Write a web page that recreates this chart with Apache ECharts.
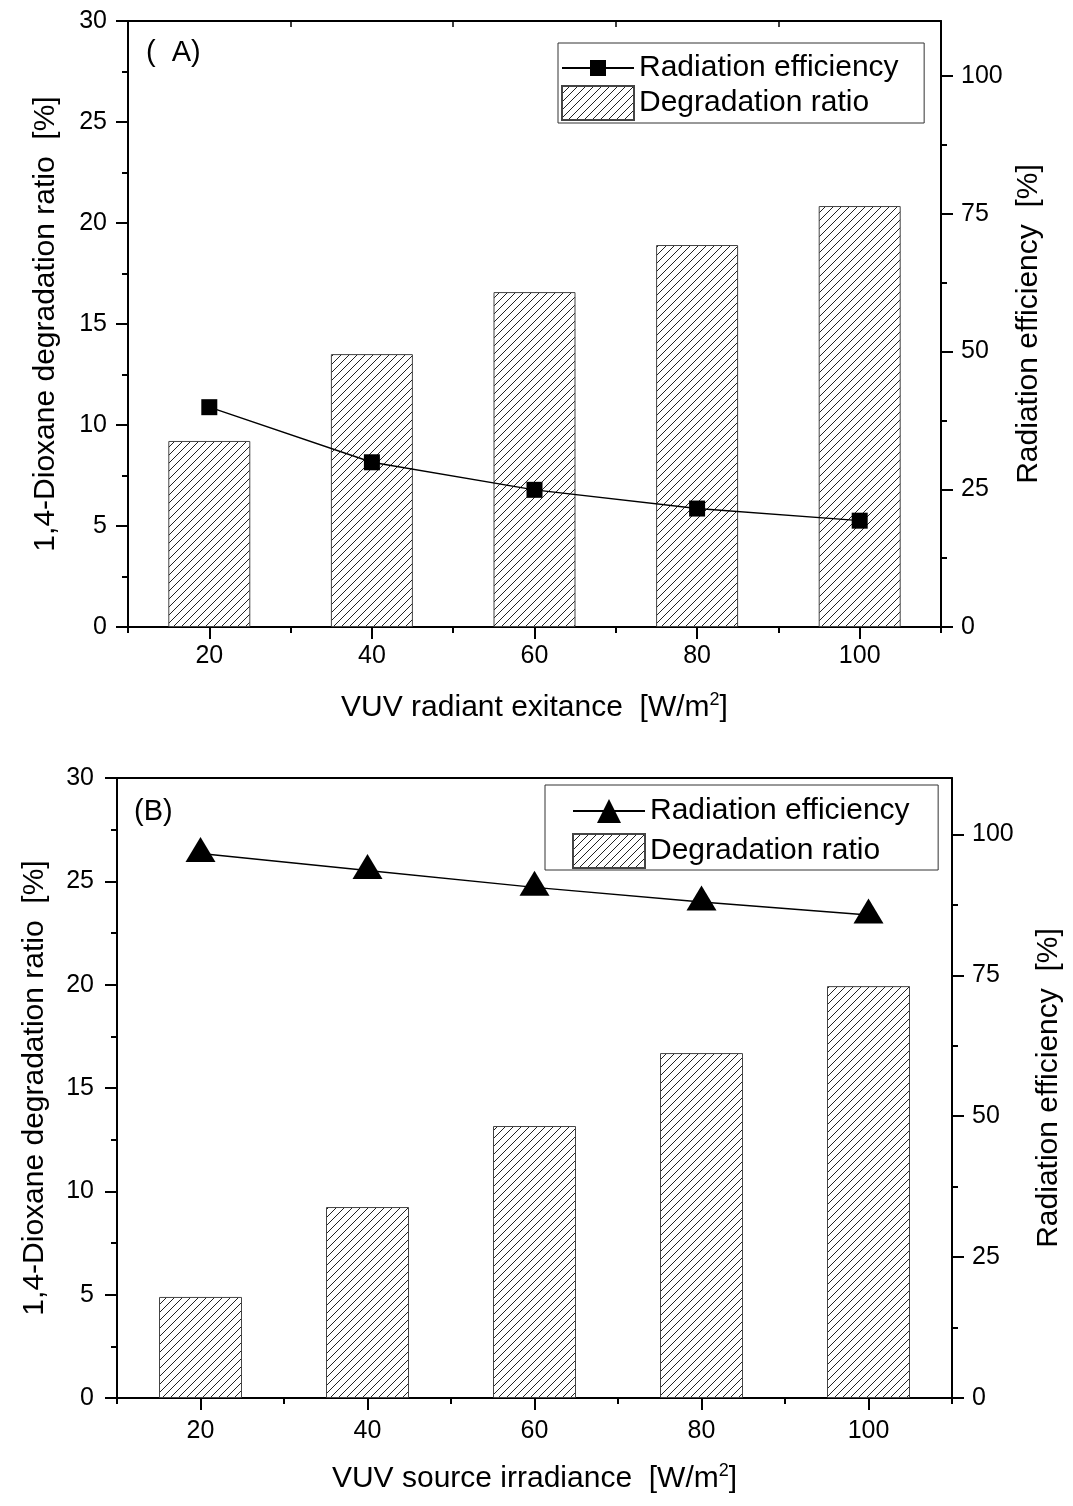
<!DOCTYPE html>
<html><head><meta charset="utf-8">
<script src="https://cdn.jsdelivr.net/npm/echarts@6/dist/echarts.min.js"></script>
<style>html,body{margin:0;padding:0;background:#fff}#c{width:1073px;height:1506px}</style>
</head><body><div id="c"></div>
<script>
// ---------------- data ----------------
const categories = [20, 40, 60, 80, 100];
const degradationA = [9.21, 13.51, 16.58, 18.91, 20.84];
const efficiencyA = [39.9, 29.9, 24.9, 21.5, 19.3];
const degradationB = [4.89, 9.24, 13.16, 16.69, 19.93];
const efficiencyB = [96.6, 93.6, 90.6, 88.0, 85.7];
const xMajorTicks = [20, 40, 60, 80, 100];
const xMinorTicks = [10, 30, 50, 70, 90, 110];
const rightTicks = [0, 25, 50, 75, 100];
const rightMinorTicks = [12.5, 37.5, 62.5, 87.5];
const leftName = '1,4-Dioxane degradation ratio  [%]';
const rightName = 'Radiation efficiency  [%]';
const xNameA = 'VUV radiant exitance  [W/m{sup|2}]';
const xNameB = 'VUV source irradiance  [W/m{sup|2}]';
const lineNameA = 'Radiation efficiency (A)';
const barNameA = 'Degradation ratio (A)';
const lineNameB = 'Radiation efficiency (B)';
const barNameB = 'Degradation ratio (B)';

// ---------------- styles ----------------
const FONT = 'Liberation Sans, Arial, Helvetica, sans-serif';
function hatch() {
  const c = document.createElement('canvas');
  c.width = 8; c.height = 8;
  const g = c.getContext('2d');
  g.strokeStyle = '#222'; g.lineWidth = 1;
  g.beginPath();
  g.moveTo(-1, 9); g.lineTo(9, -1);
  g.moveTo(-1, 1); g.lineTo(1, -1);
  g.moveTo(7, 9); g.lineTo(9, 7);
  g.stroke();
  return c;
}
const hatchFill = { image: hatch(), repeat: 'repeat' };
const axisLineStyle = { color: '#000', width: 2 };
const labelStyle = { fontSize: 25, color: '#000', fontFamily: FONT };
const nameStyle = { fontSize: 30, color: '#000', fontFamily: FONT,
  rich: { sup: { fontSize: 18, verticalAlign: 'bottom', padding: [0, 0, 15, 0], color: '#000', fontFamily: FONT } } };

const grids = [], xAxes = [], yAxes = [], series = [], legends = [];

function panel(i, cfg) {
  grids.push({ left: cfg.left, width: cfg.width, top: cfg.top, height: cfg.height, outerBoundsMode: 'none', containLabel: false });
  // x axes: main, minor, top
  xAxes.push({ type: 'value', gridIndex: i, min: 10, max: 110, position: 'bottom',
    axisLine: { show: true, onZero: false, lineStyle: axisLineStyle },
    axisTick: { show: true, customValues: xMajorTicks, length: 12, lineStyle: axisLineStyle },
    axisLabel: Object.assign({ customValues: xMajorTicks, margin: cfg.xLabelMargin }, labelStyle),
    splitLine: { show: false },
    name: cfg.xName, nameLocation: 'middle', nameGap: cfg.xNameGap, nameTextStyle: nameStyle });
  xAxes.push({ type: 'value', gridIndex: i, min: 10, max: 110, position: 'bottom',
    axisLine: { show: false, onZero: false },
    axisTick: { show: true, customValues: xMinorTicks, length: 6, lineStyle: axisLineStyle },
    axisLabel: { show: false }, splitLine: { show: false } });
  xAxes.push({ type: 'value', gridIndex: i, min: 10, max: 110, position: 'top',
    axisLine: { show: true, onZero: false, lineStyle: axisLineStyle },
    axisTick: { show: cfg.topTicks, inside: true, customValues: [30, 50, 70, 90], length: 6, lineStyle: { color: '#000', width: 1.5 } },
    axisLabel: { show: false }, splitLine: { show: false } });
  // y axes: left, right, right minor
  yAxes.push({ type: 'value', gridIndex: i, min: 0, max: 30, interval: 5, position: 'left',
    axisLine: { show: true, onZero: false, lineStyle: axisLineStyle },
    axisTick: { show: true, length: 12, lineStyle: axisLineStyle },
    minorTick: { show: true, splitNumber: 2, length: 6, lineStyle: axisLineStyle },
    axisLabel: Object.assign({ margin: cfg.yLabelMargin }, labelStyle),
    splitLine: { show: false }, minorSplitLine: { show: false },
    name: leftName, nameLocation: 'middle', nameGap: cfg.leftNameGap, nameRotate: 90, nameTextStyle: nameStyle });
  yAxes.push({ type: 'value', gridIndex: i, min: 0, max: 110, position: 'right',
    axisLine: { show: true, onZero: false, lineStyle: axisLineStyle },
    axisTick: { show: true, customValues: rightTicks, length: 12, lineStyle: axisLineStyle },
    axisLabel: Object.assign({ customValues: rightTicks, margin: 20 }, labelStyle),
    splitLine: { show: false },
    name: rightName, nameLocation: 'middle', nameGap: cfg.rightNameGap, nameRotate: 90, nameTextStyle: nameStyle });
  yAxes.push({ type: 'value', gridIndex: i, min: 0, max: 110, position: 'right',
    axisLine: { show: false, onZero: false },
    axisTick: { show: true, customValues: rightMinorTicks, length: 6, lineStyle: axisLineStyle },
    axisLabel: { show: false }, splitLine: { show: false } });

  series.push({ type: 'bar', name: cfg.barName, xAxisIndex: 3 * i, yAxisIndex: 3 * i,
    data: categories.map((c, k) => [c, cfg.bars[k]]), barWidth: cfg.barWidth,
    itemStyle: { color: hatchFill, borderColor: '#444', borderWidth: 1 }, z: 2, silent: true });
  series.push({ type: 'line', name: cfg.lineName, xAxisIndex: 3 * i, yAxisIndex: 3 * i + 1,
    data: categories.map((c, k) => [c, cfg.line[k]]), smooth: false,
    symbol: cfg.symbol, symbolSize: cfg.symbolSize, symbolOffset: cfg.symbolOffset,
    itemStyle: { color: '#000' }, lineStyle: { color: '#000', width: 1.4 }, z: 3, silent: true });

  const fmt = n => n.replace(/ \([AB]\)$/, '');
  legends.push({ orient: 'vertical', left: cfg.l1.left, top: cfg.l1.top, padding: 0,
    itemWidth: 72, itemHeight: cfg.l1.h, data: [cfg.lineName], formatter: fmt, selectedMode: false,
    textStyle: { fontSize: 30, color: '#000', fontFamily: FONT } });
  legends.push({ orient: 'vertical', left: cfg.l2.left, top: cfg.l2.top, padding: cfg.l2.padding,
    itemWidth: 72, itemHeight: 34, icon: 'rect', data: [cfg.barName], formatter: fmt, selectedMode: false,
    borderColor: '#333', borderWidth: 1,
    textStyle: { fontSize: 30, color: '#000', fontFamily: FONT } });
}

panel(0, { left: 128, width: 813, top: 21, height: 606, xName: xNameA, xNameGap: 64, xLabelMargin: 17,
  yLabelMargin: 21, leftNameGap: 67, rightNameGap: 70, topTicks: true,
  barName: barNameA, lineName: lineNameA, bars: degradationA, line: efficiencyA, barWidth: 82,
  symbol: 'rect', symbolSize: 16, symbolOffset: [0, 0],
  l1: { left: 561, top: 53, h: 20 }, l2: { left: 558, top: 43, padding: [42, 55, 2, 3] } });
panel(1, { left: 117, width: 835, top: 778, height: 620, xName: xNameB, xNameGap: 64, xLabelMargin: 21,
  yLabelMargin: 23, leftNameGap: 67, rightNameGap: 82, topTicks: false,
  barName: barNameB, lineName: lineNameB, bars: degradationB, line: efficiencyB, barWidth: 83,
  symbol: 'triangle', symbolSize: [30, 25], symbolOffset: [0, -4],
  l1: { left: 572, top: 796, h: 30 }, l2: { left: 545, top: 785, padding: [48, 58, 1, 27] } });

const chart = echarts.init(document.getElementById('c'), null, { renderer: 'canvas' });
chart.setOption({
  backgroundColor: '#fff',
  animation: false,
  title: [
    { text: '(  A)', left: 146, top: 38, padding: 0, textStyle: { fontSize: 29, fontWeight: 'normal', color: '#000', fontFamily: FONT } },
    { text: '(B)', left: 134, top: 797, padding: 0, textStyle: { fontSize: 29, fontWeight: 'normal', color: '#000', fontFamily: FONT } }
  ],
  grid: grids, xAxis: xAxes, yAxis: yAxes, series: series, legend: legends
});
</script></body></html>
